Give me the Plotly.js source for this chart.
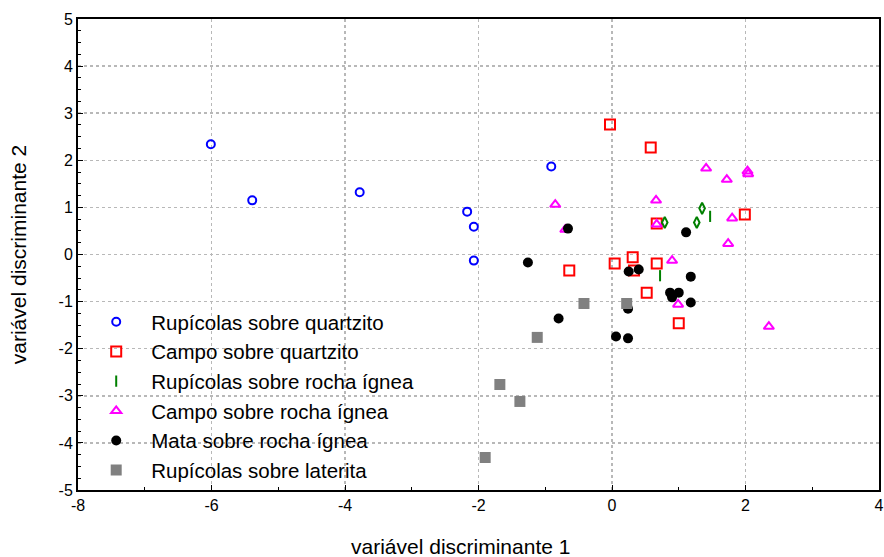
<!DOCTYPE html>
<html>
<head>
<meta charset="utf-8">
<script src="https://cdn.plot.ly/plotly-3.0.1.min.js"></script>
<style>html,body{margin:0;padding:0;background:#fff;}#chart{width:884px;height:557px;}</style>
</head>
<body>
<div id="chart"></div>
<script>
// Rupícolas sobre quartzito
const rqX = [-6.01, -5.39, -3.78, -2.17, -2.07, -2.07, -0.91];
const rqY = [2.34, 1.15, 1.32, 0.91, 0.59, -0.13, 1.87];
// Campo sobre quartzito
const cqX = [-0.03, 0.58, 0.67, 1.99, 0.04, -0.64, 0.31, 0.67, 0.33, 0.52, 1.00];
const cqY = [2.76, 2.27, 0.66, 0.85, -0.19, -0.34, -0.06, -0.19, -0.34, -0.81, -1.46];
// Rupícolas sobre rocha ígnea
const riX = [1.47, 0.72, 1.35, 1.27, 0.79];
const riY = [0.81, -0.45, 0.98, 0.68, 0.68];
const riSym = ['line-ns-open', 'line-ns-open', 'diamond-tall-open', 'diamond-tall-open', 'diamond-tall-open'];
// Campo sobre rocha ígnea
const ciX = [1.41, 1.72, 2.03, 2.04, -0.85, 0.66, 1.80, 0.67, 1.74, 0.90, -0.70, 0.99, 2.35];
const ciY = [1.83, 1.59, 1.77, 1.71, 1.06, 1.15, 0.77, 0.64, 0.23, -0.13, 0.53, -1.06, -1.53];
// Mata sobre rocha ígnea
const mtX = [-0.66, 1.11, -1.26, 0.25, 0.40, 1.18, 0.87, 1.00, 0.90, 1.18, 0.24, 0.06, 0.24, -0.80];
const mtY = [0.55, 0.47, -0.17, -0.36, -0.32, -0.47, -0.81, -0.81, -0.91, -1.02, -1.15, -1.74, -1.78, -1.36];
// Rupícolas sobre laterita
const rlX = [-0.42, 0.22, -1.12, -1.68, -1.38, -1.90];
const rlY = [-1.04, -1.04, -1.76, -2.76, -3.12, -4.31];

const names = ['Rupícolas sobre quartzito', 'Campo sobre quartzito', 'Rupícolas sobre rocha ígnea',
  'Campo sobre rocha ígnea', 'Mata sobre rocha ígnea', 'Rupícolas sobre laterita'];

// tick labels
const xTickVals = [-8, -6, -4, -2, 0, 2, 4];
const xTickText = ['-8', '-6', '-4', '-2', '0', '2', '4'];
const yTickVals = [-5, -4, -3, -2, -1, 0, 1, 2, 3, 4, 5];
const yTickText = ['-5', '-4', '-3', '-2', '-1', '0', '1', '2', '3', '4', '5'];

const xTitle = 'variável discriminante 1';
const yTitle = 'variável discriminante 2';

const traces = [
  {x: rqX, y: rqY, name: names[0], type: 'scatter', mode: 'markers',
   marker: {symbol: 'circle-open', size: 8, color: '#0000ff', line: {width: 2, color: '#0000ff'}}},
  {x: cqX, y: cqY, name: names[1], type: 'scatter', mode: 'markers',
   marker: {symbol: 'square-open', size: 10, color: '#ff0000', line: {width: 2, color: '#ff0000'}}},
  {x: riX, y: riY, name: names[2], type: 'scatter', mode: 'markers',
   marker: {symbol: riSym, size: 8, color: '#008000', line: {width: 2, color: '#008000'}}},
  {x: ciX, y: ciY, name: names[3], type: 'scatter', mode: 'markers',
   marker: {symbol: 'triangle-up-open', size: 9, color: '#ff00ff', line: {width: 2, color: '#ff00ff'}}},
  {x: mtX, y: mtY, name: names[4], type: 'scatter', mode: 'markers',
   marker: {symbol: 'circle', size: 10, color: '#000000'}},
  {x: rlX, y: rlY, name: names[5], type: 'scatter', mode: 'markers',
   marker: {symbol: 'square', size: 11, color: '#808080'}}
];

const gridStyle = {showgrid: true, gridcolor: '#b8b8b8', griddash: '3px,3px', gridwidth: 1.5};

const layout = {
  width: 884, height: 557,
  margin: {l: 78, r: 5, t: 19, b: 67},
  paper_bgcolor: '#ffffff', plot_bgcolor: '#ffffff',
  font: {family: 'Arial, "Liberation Sans", sans-serif', color: '#000'},
  showlegend: true,
  legend: {x: 0.004, y: 0.0, xanchor: 'left', yanchor: 'bottom', bgcolor: 'rgba(0,0,0,0)',
           font: {size: 20.5, color: '#000'}, tracegroupgap: 0, itemwidth: 60, itemsizing: 'trace'},
  xaxis: Object.assign({range: [-8, 4], tickmode: 'array', tickvals: xTickVals, ticktext: xTickText,
          zeroline: false, showline: true, linecolor: '#000', linewidth: 2, mirror: true,
          ticks: 'inside', ticklen: 5, tickcolor: '#000', tickwidth: 1,
          minor: {dtick: 1, tick0: 0, ticks: 'inside', ticklen: 3, tickcolor: '#000', showgrid: false},
          tickfont: {size: 16}}, gridStyle),
  yaxis: Object.assign({range: [-5, 5], tickmode: 'array', tickvals: yTickVals, ticktext: yTickText,
          zeroline: false, showline: true, linecolor: '#000', linewidth: 2, mirror: true,
          ticks: 'inside', ticklen: 5, tickcolor: '#000', tickwidth: 1,
          minor: {dtick: 0.25, tick0: 0, ticks: 'inside', ticklen: 3, tickcolor: '#000', showgrid: false},
          tickfont: {size: 16}, title: {text: yTitle, font: {size: 21}, standoff: 26}}, gridStyle),
  annotations: [{text: xTitle, xref: 'paper', yref: 'paper', x: 0.478, y: 0, yshift: -43,
                 xanchor: 'center', yanchor: 'top', showarrow: false, font: {size: 21, color: '#000'}}],
  shapes: [{type: 'rect', xref: 'paper', yref: 'paper', x0: 0.003, x1: 0.4707, y0: 0.003, y1: 0.39,
            fillcolor: '#ffffff', line: {width: 0}, layer: 'between'}]
};

Plotly.newPlot('chart', traces, layout, {displayModeBar: false, staticPlot: true});
</script>
</body>
</html>
